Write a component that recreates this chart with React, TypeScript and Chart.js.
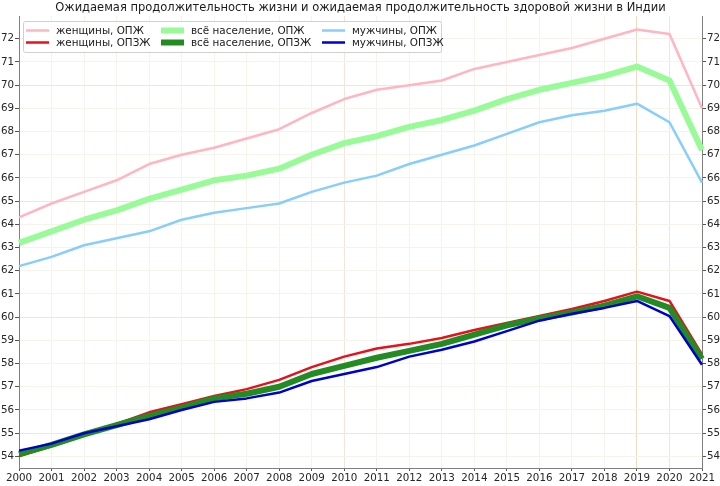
import { useEffect, useRef } from "react";
import { Chart, registerables, type Plugin } from "chart.js";

Chart.register(...registerables);

const FONT = "'DejaVu Sans', sans-serif";

const TITLE =
  "Ожидаемая продолжительность жизни и ожидаемая продолжительность здоровой жизни в Индии";

const years = [
  "2000", "2001", "2002", "2003", "2004", "2005", "2006", "2007", "2008", "2009", "2010",
  "2011", "2012", "2013", "2014", "2015", "2016", "2017", "2018", "2019", "2020", "2021",
];

// ОПЖ — ожидаемая продолжительность жизни
const womenLE = [
  64.3, 64.9, 65.4, 65.9, 66.6, 67.0, 67.3, 67.7, 68.1, 68.8, 69.4,
  69.8, 70.0, 70.2, 70.7, 71.0, 71.3, 71.6, 72.0, 72.4, 72.2, 69.0,
];
const allLE = [
  63.2, 63.7, 64.2, 64.6, 65.1, 65.5, 65.9, 66.1, 66.4, 67.0, 67.5,
  67.8, 68.2, 68.5, 68.9, 69.4, 69.8, 70.1, 70.4, 70.8, 70.2, 67.2,
];
const menLE = [
  62.2, 62.6, 63.1, 63.4, 63.7, 64.2, 64.5, 64.7, 64.9, 65.4, 65.8,
  66.1, 66.6, 67.0, 67.4, 67.9, 68.4, 68.7, 68.9, 69.2, 68.4, 65.8,
];

// ОПЗЖ — ожидаемая продолжительность здоровой жизни
const womenHALE = [
  54.0, 54.45, 54.9, 55.4, 55.9, 56.25, 56.6, 56.9, 57.3, 57.85, 58.3,
  58.65, 58.85, 59.1, 59.45, 59.75, 60.05, 60.35, 60.7, 61.1, 60.7, 58.4,
];
const allHALE = [
  54.1, 54.5, 54.95, 55.35, 55.75, 56.1, 56.5, 56.7, 57.0, 57.55, 57.9,
  58.25, 58.55, 58.85, 59.25, 59.65, 59.95, 60.2, 60.5, 60.9, 60.4, 58.2,
];
const menHALE = [
  54.25, 54.55, 55.0, 55.3, 55.6, 56.0, 56.35, 56.5, 56.75, 57.25, 57.55,
  57.85, 58.3, 58.6, 58.95, 59.4, 59.85, 60.15, 60.4, 60.7, 60.05, 57.95,
];

const series = [
  { label: "женщины, ОПЖ", data: womenLE, color: "#ffb6c1", width: 2.5 },
  { label: "женщины, ОПЗЖ", data: womenHALE, color: "#e8101a", width: 2.5 },
  { label: "всё население, ОПЖ", data: allLE, color: "#98fb98", width: 6 },
  { label: "всё население, ОПЗЖ", data: allHALE, color: "#228b22", width: 6 },
  { label: "мужчины, ОПЖ", data: menLE, color: "#87cefa", width: 2.5 },
  { label: "мужчины, ОПЗЖ", data: menHALE, color: "#0000cd", width: 2.5 },
];

const yTicks = [54, 55, 56, 57, 58, 59, 60, 61, 62, 63, 64, 65, 66, 67, 68, 69, 70, 71, 72];

/* title over the axes + matplotlib-style legend box (3 columns, column-major) */
const overlay: Plugin<"line"> = {
  id: "overlay",
  afterDraw(chart) {
    const { ctx, chartArea } = chart;
    ctx.save();
    ctx.fillStyle = "#1a1a1a";
    ctx.font = `11.5px ${FONT}`;
    ctx.textAlign = "center";
    ctx.textBaseline = "middle";
    ctx.fillText(TITLE, (chartArea.left + chartArea.right) / 2, 8);

    const bx = 23, by = 21, bw = 418, bh = 31;
    ctx.fillStyle = "rgba(255,255,255,0.85)";
    ctx.strokeStyle = "#d0d0d0";
    ctx.lineWidth = 1;
    ctx.beginPath();
    ctx.roundRect(bx + 0.5, by + 0.5, bw, bh, 2);
    ctx.fill();
    ctx.stroke();

    const colX = [26, 161, 322];
    const rowY = [30.5, 42.5];
    ctx.font = `10.4px ${FONT}`;
    ctx.textAlign = "left";
    chart.data.datasets.forEach((ds, i) => {
      const x = colX[Math.floor(i / 2)];
      const y = rowY[i % 2];
      ctx.strokeStyle = ds.borderColor as string;
      ctx.lineWidth = ds.borderWidth as number;
      ctx.beginPath();
      ctx.moveTo(x, y);
      ctx.lineTo(x + 23, y);
      ctx.stroke();
      ctx.fillStyle = "#1a1a1a";
      ctx.fillText(ds.label ?? "", x + 30, y + 0.5);
    });
    ctx.restore();
  },
};

const xGrid = (index: number) => {
  if (index === 19) return "#eddcc4";
  if (index % 10 === 0) return "#efe7d8";
  return "#f6f3ea";
};
const yGrid = (value: number) => (value % 5 === 0 ? "#efe7d8" : "#f6f3ea");

export default function App() {
  const canvasRef = useRef<HTMLCanvasElement>(null);

  useEffect(() => {
    document.body.style.margin = "0";
    if (!canvasRef.current) return;

    const tickFont = { family: FONT, size: 10.3 };
    const chart = new Chart(canvasRef.current, {
      type: "line",
      data: {
        labels: years,
        datasets: series.map((s, i) => ({
          label: s.label,
          data: s.data,
          borderColor: s.color,
          backgroundColor: s.color,
          borderWidth: s.width,
          pointRadius: 0,
          tension: 0,
          borderJoinStyle: "round" as const,
          borderCapStyle: "butt" as const,
          order: series.length - 1 - i,
          yAxisID: "y",
        })),
      },
      options: {
        responsive: true,
        maintainAspectRatio: false,
        animation: false,
        layout: { padding: { top: 16, left: 0, right: 0, bottom: 0 } },
        plugins: {
          legend: { display: false },
          title: { display: false },
          tooltip: { enabled: false },
        },
        scales: {
          x: {
            type: "category",
            offset: false,
            grid: {
              color: (c) => xGrid(c.index),
              tickColor: "#555",
              tickLength: 3,
            },
            border: { color: "#808080" },
            ticks: {
              color: "#262626",
              font: tickFont,
              padding: 1,
              maxRotation: 0,
              autoSkip: false,
            },
            afterFit: (s) => {
              s.height = 18;
            },
          },
          y: {
            type: "linear",
            position: "left",
            min: 53.5,
            max: 72.98,
            grid: {
              color: (c) => yGrid(c.tick.value),
              tickColor: "#555",
              tickLength: 4,
            },
            border: { color: "#808080" },
            ticks: { color: "#262626", font: tickFont, padding: 1 },
            afterBuildTicks: (s) => {
              s.ticks = yTicks.map((v) => ({ value: v }));
            },
            afterFit: (s) => {
              s.width = 19;
            },
          },
          y2: {
            type: "linear",
            position: "right",
            min: 53.5,
            max: 72.98,
            grid: {
              drawOnChartArea: false,
              tickColor: "#555",
              tickLength: 4,
            },
            border: { color: "#808080" },
            ticks: { color: "#262626", font: tickFont, padding: 1 },
            afterBuildTicks: (s) => {
              s.ticks = yTicks.map((v) => ({ value: v }));
            },
            afterFit: (s) => {
              s.width = 18;
            },
          },
        },
      },
      plugins: [overlay],
    });

    return () => chart.destroy();
  }, []);

  return (
    <div style={{ width: 720, height: 486, position: "relative", background: "#fff" }}>
      <canvas ref={canvasRef} />
    </div>
  );
}
